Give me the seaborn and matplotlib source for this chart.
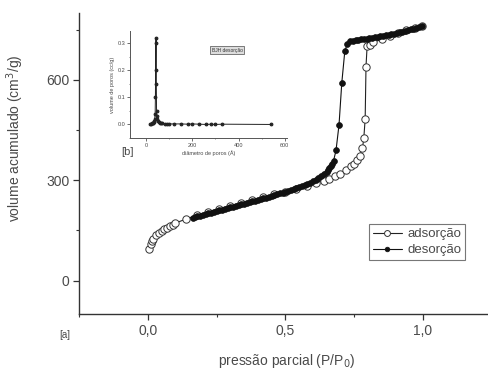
import numpy as np
import pandas as pd
import seaborn as sns
import matplotlib.pyplot as plt
from matplotlib.ticker import MultipleLocator, FuncFormatter

# adsorption branch (P/P0, cm3/g)
ads_p = [0.005, 0.01, 0.015, 0.02, 0.03, 0.04, 0.05, 0.06, 0.07, 0.08, 0.09, 0.10,
         0.14, 0.18, 0.22, 0.26, 0.30, 0.34, 0.38, 0.42, 0.46, 0.50, 0.54, 0.58,
         0.61, 0.64, 0.66, 0.68, 0.70, 0.72, 0.74, 0.75, 0.76, 0.77, 0.78, 0.785,
         0.79, 0.793, 0.797, 0.807, 0.82, 0.85, 0.88, 0.91, 0.94, 0.97, 0.995]
ads_v = [95, 108, 118, 125, 135, 142, 148, 153, 158, 162, 166, 172,
         184, 196, 206, 215, 224, 233, 242, 250, 258, 266, 275, 284,
         291, 299, 305, 312, 320, 330, 342, 350, 360, 372, 395, 425,
         484, 640, 700, 704, 712, 722, 731, 740, 748, 755, 762]

# desorption branch
des_p = [0.995, 0.985, 0.975, 0.965, 0.955, 0.945, 0.935, 0.925, 0.915, 0.905,
         0.895, 0.885, 0.875, 0.865, 0.855, 0.845, 0.835, 0.825, 0.815, 0.805,
         0.795, 0.785, 0.775, 0.765, 0.755, 0.745, 0.735, 0.725, 0.716, 0.705,
         0.695, 0.684, 0.675, 0.67, 0.665, 0.66, 0.655, 0.65, 0.64, 0.63, 0.62,
         0.61, 0.60, 0.59, 0.58, 0.57, 0.56, 0.55, 0.54, 0.53, 0.52, 0.51, 0.50,
         0.49, 0.48, 0.47, 0.46, 0.45, 0.44, 0.43, 0.42, 0.41, 0.40, 0.39, 0.38,
         0.37, 0.36, 0.35, 0.34, 0.33, 0.32, 0.31, 0.30, 0.29, 0.28, 0.27, 0.26,
         0.25, 0.24, 0.23, 0.22, 0.21, 0.20, 0.19, 0.18, 0.17, 0.165]
des_v = [762, 759, 756, 753, 751, 748, 746, 744, 742, 740,
         738, 736, 734, 733, 731, 730, 728, 727, 725, 724,
         723, 722, 721, 720, 719, 717, 716, 708, 686, 591,
         466, 389, 358, 350, 342, 336, 330, 325, 318, 312, 306,
         301, 297, 293, 290, 287, 284, 281, 278, 275, 272, 269, 266,
         263, 261, 258, 256, 253, 251, 248, 246, 244, 241, 239, 237,
         234, 232, 230, 228, 225, 223, 221, 219, 217, 214, 212, 210,
         208, 206, 203, 201, 199, 197, 194, 192, 189, 187]

# inset: pore size distribution
pore_d = [18, 22, 25, 28, 30, 33, 35, 37, 39, 40, 41, 42, 43, 44, 45, 46, 48, 50,
          55, 60, 65, 70, 80, 90, 100, 120, 150, 180, 200, 230, 260, 280, 300,
          330, 540]
pore_v = [0.0, 0.002, 0.004, 0.006, 0.004, 0.008, 0.012, 0.02, 0.04, 0.1, 0.2,
          0.3, 0.32, 0.15, 0.05, 0.03, 0.02, 0.012, 0.008, 0.006, 0.005, 0.004,
          0.003, 0.003, 0.002, 0.002, 0.002, 0.001, 0.002, 0.001, 0.0, 0.001,
          0.0, 0.001, 0.0]

sns.set_style("ticks")
plt.rcParams['font.family'] = ['Liberation Sans', 'DejaVu Sans']
txt = '#4a4a4a'

fig = plt.figure(figsize=(4.89, 3.72), dpi=100)
ax = fig.add_axes([79/489, 1-314/372, 1-79/489, (314-13)/372])

df_a = pd.DataFrame({'p': ads_p, 'v': ads_v})
df_d = pd.DataFrame({'p': des_p, 'v': des_v})
sns.lineplot(data=df_a, x='p', y='v', ax=ax, estimator=None, sort=False,
             color='#222222', lw=0.8, marker='o', markersize=5.3,
             markerfacecolor='white', markeredgecolor='#333333',
             markeredgewidth=0.7, label='adsorção')
sns.lineplot(data=df_d, x='p', y='v', ax=ax, estimator=None, sort=False,
             color='#111111', lw=0.8, marker='o', markersize=4.2,
             markerfacecolor='#111111', markeredgecolor='#111111',
             markeredgewidth=0.5, label='desorção')

ax.set_xlim(-0.25, 1.24)
ax.set_ylim(-100, 800)
ax.xaxis.set_major_locator(MultipleLocator(0.5))
ax.xaxis.set_minor_locator(MultipleLocator(0.25))
ax.yaxis.set_major_locator(MultipleLocator(300))
ax.yaxis.set_minor_locator(MultipleLocator(150))
ax.xaxis.set_major_formatter(FuncFormatter(lambda v, p: f'{v:.1f}'.replace('.', ',')))
ax.tick_params(which='major', direction='out', length=4, width=0.9,
               labelsize=10, labelcolor=txt, colors='#333333', pad=3)
ax.tick_params(which='minor', direction='out', length=2, width=0.8, colors='#333333')
for s in ['top', 'right']:
    ax.spines[s].set_visible(False)
for s in ['left', 'bottom']:
    ax.spines[s].set_linewidth(1.0)
    ax.spines[s].set_color('#333333')

ax.set_xlabel('pressão parcial (P/P$_0$)', fontsize=10, color=txt)
ax.xaxis.set_label_coords(0.507, -0.125)
ax.set_ylabel('volume acumulado (cm$^3$/g)', fontsize=10, color=txt)
ax.yaxis.set_label_coords(-0.13, 0.585)

leg = ax.legend(loc='upper left', bbox_to_anchor=((369-79)/410, 1-(224-13)/301),
                frameon=True, fancybox=False, fontsize=9.5, handlelength=2.2,
                borderpad=0.3, labelspacing=0.3, handletextpad=0.4,
                borderaxespad=0, markerscale=0.8)
leg.get_frame().set_edgecolor('#555555')
leg.get_frame().set_linewidth(0.8)
for t in leg.get_texts():
    t.set_color(txt)

fig.text(65/489, 1-335/372, '[a]', fontsize=7, color=txt, ha='center', va='center')

# inset
axi = fig.add_axes([130/489, 1-138/372, (287-130)/489, (138-31)/372])
df_i = pd.DataFrame({'d': pore_d, 'v': pore_v})
sns.lineplot(data=df_i, x='d', y='v', ax=axi, estimator=None, sort=False,
             color='#222222', lw=0.7, marker='o', markersize=2,
             markerfacecolor='#222222', markeredgecolor='#222222')
axi.set_xlim(-70, 610)
axi.set_ylim(-0.05, 0.345)
axi.xaxis.set_major_locator(MultipleLocator(200))
axi.xaxis.set_minor_locator(MultipleLocator(100))
axi.yaxis.set_major_locator(MultipleLocator(0.1))
axi.yaxis.set_minor_locator(MultipleLocator(0.05))
axi.tick_params(which='major', direction='out', length=2, width=0.6,
                labelsize=4, labelcolor=txt, colors='#555555', pad=1.5)
axi.tick_params(which='minor', direction='out', length=1, width=0.5, colors='#555555')
for s in ['top', 'right']:
    axi.spines[s].set_visible(False)
for s in ['left', 'bottom']:
    axi.spines[s].set_linewidth(0.7)
    axi.spines[s].set_color('#555555')
axi.patch.set_alpha(0)
axi.set_xlabel('diâmetro de poros (Å)', fontsize=4, color=txt, labelpad=1.5)
axi.set_ylabel('volume de poros (cc/g)', fontsize=4, color=txt, labelpad=2)
axi.text(0.52, 0.82, 'BJH desorção', transform=axi.transAxes, fontsize=3.5,
         color='#333333', ha='left', va='center',
         bbox=dict(boxstyle='square,pad=0.3', fc='#dddddd', ec='#666666', lw=0.6))
fig.text(128/489, 1-152/372, '[b]', fontsize=8, color=txt, ha='center', va='center')

fig.savefig('out.png', dpi=100)
